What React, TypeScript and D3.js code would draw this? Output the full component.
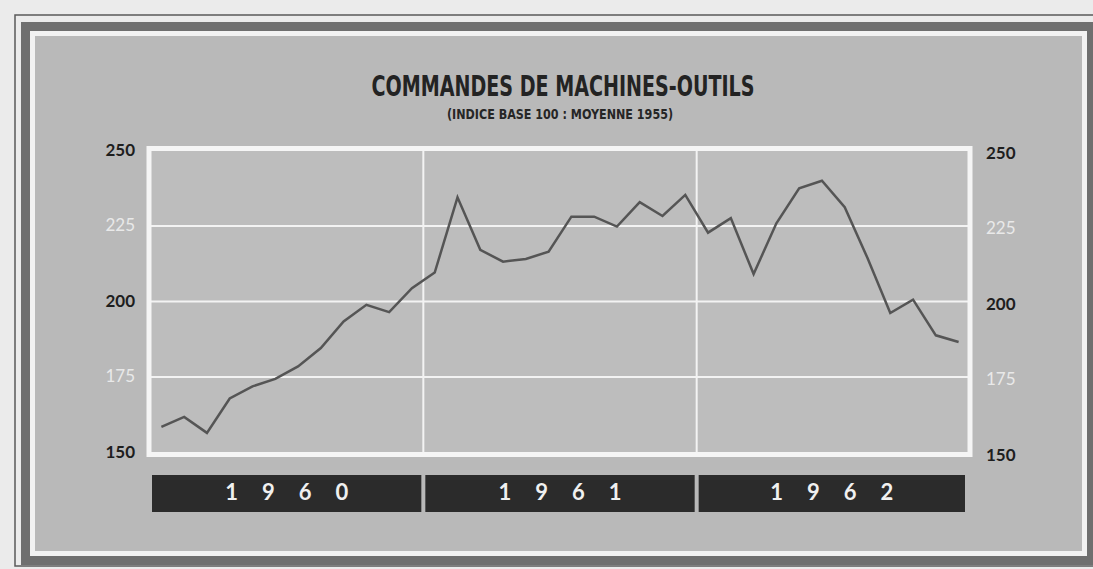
import React from "react";
import * as d3 from "d3";

const years = ["1960", "1961", "1962"];
const monthsPerYear = 12;
const values = [
  158.5, 161.8, 156.5, 167.9, 171.9, 174.4, 178.5, 184.6, 193.4, 198.9, 196.5, 204.4,
  209.6, 234.5, 217.1, 213.2, 214.1, 216.5, 228.1, 228.1, 224.8, 232.9, 228.3, 235.3,
  222.8, 227.6, 209.1, 225.9, 237.5, 240.0, 231.2, 214.4, 196.2, 200.6, 188.8, 186.6,
];
const tickValues = [150, 175, 200, 225, 250];
const tickDark = [true, false, true, false, true];
const title = "COMMANDES DE MACHINES-OUTILS";
const subtitle = "(INDICE BASE 100 : MOYENNE 1955)";

const W = 1093;
const H = 569;
const plot = { left: 150, right: 970, top: 150.5, bottom: 452.5 };

export default function App() {
  const n = years.length * monthsPerYear;
  const x = d3.scaleLinear().domain([0, n]).range([plot.left, plot.right]);
  const y = d3.scaleLinear().domain([150, 250]).range([plot.bottom, plot.top]);
  const line = d3
    .line<number>()
    .x((_, i) => x(i + 0.5))
    .y((d) => y(d));

  const labelFont = "'Lato', 'Open Sans', sans-serif";
  const condFont = "'Liberation Sans Narrow', 'DejaVu Sans Condensed', 'Roboto', sans-serif";

  return (
    <div style={{ position: "fixed", left: 0, top: 0 }}>
      <svg width={W} height={H} style={{ display: "block" }}>
        {/* page background */}
        <rect x={0} y={0} width={W} height={H} fill="#ebebeb" />
        {/* outer thin line */}
        <rect x={15} y={15} width={1100} height={551} fill="none" stroke="#5a5a5a" strokeWidth={1.5} />
        {/* thick dark band */}
        <rect x={21} y={22} width={1100} height={543} fill="#6f6f6f" />
        {/* white band */}
        <rect x={30} y={31} width={1057} height={525} fill="#f2f2f2" />
        {/* panel */}
        <rect x={35} y={36} width={1047} height={515} fill="#b9b9b9" />

        {/* title */}
        <text
          x={563}
          y={96}
          textAnchor="middle"
          fontFamily={condFont}
          fontWeight="bold"
          fontSize={28}
          fill="#232323"
          textLength={383}
          lengthAdjust="spacingAndGlyphs"
        >
          {title}
        </text>
        <text
          x={560}
          y={119}
          textAnchor="middle"
          fontFamily={condFont}
          fontWeight="bold"
          fontSize={14}
          fill="#262626"
          textLength={226}
          lengthAdjust="spacingAndGlyphs"
        >
          {subtitle}
        </text>

        {/* plot area */}
        <rect
          x={plot.left - 1}
          y={plot.top - 2}
          width={plot.right - plot.left + 1}
          height={plot.bottom - plot.top + 4}
          fill="#bdbdbd"
        />
        {/* gridlines */}
        {tickValues.slice(1, -1).map((t) => (
          <line key={t} x1={plot.left} x2={plot.right} y1={y(t)} y2={y(t)} stroke="#f3f3f3" strokeWidth={2} />
        ))}
        {years.slice(1).map((_, i) => (
          <line
            key={i}
            x1={x((i + 1) * monthsPerYear)}
            x2={x((i + 1) * monthsPerYear)}
            y1={plot.top - 2}
            y2={plot.bottom + 2}
            stroke="#f3f3f3"
            strokeWidth={2}
          />
        ))}
        {/* frame */}
        <rect
          x={plot.left - 1}
          y={plot.top - 2}
          width={plot.right - plot.left + 1}
          height={plot.bottom - plot.top + 4}
          fill="none"
          stroke="#f5f5f5"
          strokeWidth={5}
        />

        {/* data line */}
        <path d={line(values) || ""} fill="none" stroke="#555555" strokeWidth={2.5} strokeLinejoin="miter" />

        {/* axis labels */}
        {tickValues.map((t, i) => (
          <g key={t}>
            <text
              x={135}
              y={y(t) + 1}
              textAnchor="end"
              dominantBaseline="middle"
              fontFamily={labelFont}
              fontWeight={tickDark[i] ? "bold" : "normal"}
              fontSize={17}
              fill={tickDark[i] ? "#1e1e1e" : "#e9e9e9"}
            >
              {t}
            </text>
            <text
              x={986}
              y={y(t) + 4}
              textAnchor="start"
              dominantBaseline="middle"
              fontFamily={labelFont}
              fontWeight={tickDark[i] ? "bold" : "normal"}
              fontSize={17}
              fill={tickDark[i] ? "#1e1e1e" : "#e9e9e9"}
            >
              {t}
            </text>
          </g>
        ))}

        {/* year bars */}
        {years.map((yr, i) => {
          const x0 = x(i * monthsPerYear) + 2;
          const x1 = x((i + 1) * monthsPerYear) - (i === years.length - 1 ? 5 : 2);
          return (
            <g key={yr}>
              <rect x={x0} y={475} width={x1 - x0} height={37} fill="#2b2b2b" />
              <text
                x={(x0 + x1) / 2 + 12}
                y={494}
                textAnchor="middle"
                dominantBaseline="middle"
                fontFamily={labelFont}
                fontWeight="bold"
                fontSize={22}
                letterSpacing={24}
                fill="#f0f0f0"
              >
                {yr}
              </text>
            </g>
          );
        })}
      </svg>
    </div>
  );
}
